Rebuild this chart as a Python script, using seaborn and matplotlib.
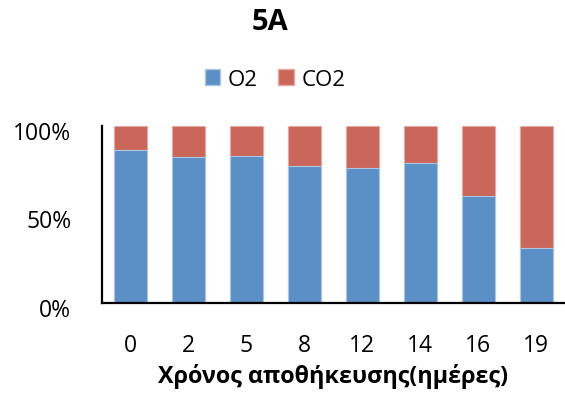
import matplotlib
matplotlib.use("Agg")
import matplotlib.pyplot as plt
import matplotlib.transforms as mtransforms
import seaborn as sns
import pandas as pd
from matplotlib.patches import Patch

days = ["0", "2", "5", "8", "12", "14", "16", "19"]
o2 = [86, 82, 83, 77, 76, 79, 60, 31]
co2 = [14, 18, 17, 23, 24, 21, 40, 69]
title = "5A"
xlabel = "Χρόνος αποθήκευσης(ημέρες)"
ytick_vals = [0, 50, 100]

sns.set_theme(style="white")
plt.rcParams['font.family'] = ['Open Sans', 'DejaVu Sans']
plt.rcParams['text.color'] = 'black'
plt.rcParams['xtick.color'] = 'black'
plt.rcParams['ytick.color'] = 'black'
plt.rcParams['axes.labelcolor'] = 'black'

df = pd.DataFrame({"day": days, "O2": o2, "CO2": co2})
df["total"] = df["O2"] + df["CO2"]

blue = "#5B90C6"
red = "#CB665B"

fig = plt.figure(figsize=(5.65, 4.02), dpi=100)
ax = fig.add_axes([0.18, 0.245, 0.82, 0.44])

sns.barplot(data=df, x="day", y="total", order=days, color=red, width=0.57,
            saturation=1, edgecolor="#E8A9A3", linewidth=0.8, ax=ax)
sns.barplot(data=df, x="day", y="O2", order=days, color=blue, width=0.57,
            saturation=1, edgecolor="#A9C6E6", linewidth=0.8, ax=ax)

ax.set_xlim(-0.5, 7.5)
ax.set_ylim(0, 100)
ax.set_yticks(ytick_vals)
ax.set_yticklabels([f"{v}%" for v in ytick_vals])
ax.tick_params(axis='y', length=0, pad=22, labelsize=16.5)
ax.tick_params(axis='x', length=0, pad=22, labelsize=16.5)
shift = mtransforms.ScaledTranslation(0, -4 / 100, fig.dpi_scale_trans)
for lab in ax.get_yticklabels():
    lab.set_transform(lab.get_transform() + shift)
ax.set_ylabel("")
ax.set_xlabel(xlabel, fontsize=16.8, fontweight='bold', labelpad=4)

for s in ["top", "right"]:
    ax.spines[s].set_visible(False)
for s in ["left", "bottom"]:
    ax.spines[s].set_color("#000000")
    ax.spines[s].set_linewidth(1.6)

fig.text(270 / 565, 1 - 22 / 402, title, ha='center', va='center', fontsize=21, fontweight='bold')

handles = [Patch(facecolor=blue, edgecolor="#A9C6E6", label="O2"),
           Patch(facecolor=red, edgecolor="#E8A9A3", label="CO2")]
fig.legend(handles=handles, loc='center', bbox_to_anchor=(275 / 565, 1 - 80 / 402), ncol=2,
           frameon=False, fontsize=16, handlelength=0.7, handleheight=0.7,
           handletextpad=0.35, columnspacing=0.9)

fig.savefig("out.png", dpi=100)
